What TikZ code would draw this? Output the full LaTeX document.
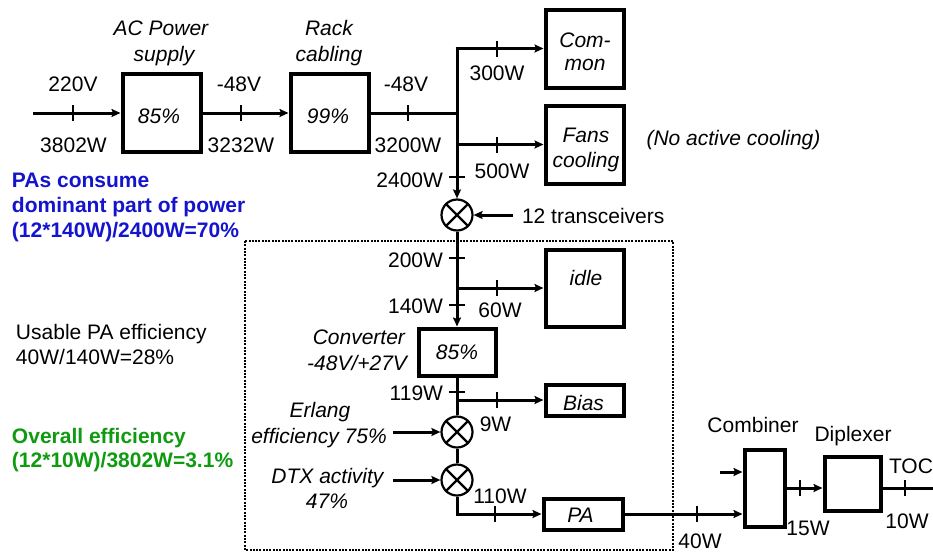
\documentclass[tikz,border=0pt]{standalone}
\usepackage{fontspec}
\setmainfont{Liberation Sans}
\usetikzlibrary{arrows.meta}
\definecolor{pablue}{RGB}{20,20,205}
\definecolor{effgreen}{RGB}{15,155,15}
\begin{document}
\begin{tikzpicture}[x=1pt,y=-1pt,
  every node/.style={inner sep=0pt, outer sep=0pt},
  lab/.style={font=\fontsize{21}{25}\selectfont, anchor=base},
  ilab/.style={font=\fontsize{21}{25}\selectfont\itshape, anchor=base},
  blab/.style={font=\fontsize{21}{25}\selectfont\bfseries, anchor=base west},
  blk/.style={draw, line width=4pt, rectangle, outer sep=2pt},
  conn/.style={line width=3pt},
  arr/.style={conn, -{Stealth[length=9pt,width=8pt,inset=1.5pt]}},
  tick/.style={line width=2pt},
  mult/.style={circle, draw, line width=2.2pt, minimum size=31pt, outer sep=1.1pt},
  ]
\useasboundingbox (0,0) rectangle (933,552);

% dotted transceiver frame
\draw[line width=2.5pt, dash pattern=on 2pt off 1.3pt] (245,241) rectangle (673,550);

% boxes
\node[blk, minimum width=78pt, minimum height=78pt] (ac) at (161.5,113) {};
\node[blk, minimum width=78pt, minimum height=78pt] (rack) at (329.5,113) {};
\node[blk, minimum width=78pt, minimum height=78pt] (common) at (584.5,48.5) {};
\node[blk, minimum width=78pt, minimum height=78pt] (fans) at (584.5,144.5) {};
\node[blk, minimum width=78pt, minimum height=77pt] (idle) at (584.5,288) {};
\node[blk, minimum width=77pt, minimum height=47pt] (conv) at (457,352) {};
\node[blk, minimum width=78pt, minimum height=31pt] (bias) at (584.5,400) {};
\node[blk, minimum width=79pt, minimum height=31pt] (pa) at (583,514) {};
\node[blk, minimum width=40pt, minimum height=77pt] (comb) at (764.5,488) {};
\node[blk, minimum width=56pt, minimum height=54pt] (dipl) at (852.5,483.5) {};

% multipliers
\node[mult] (m1) at (457,215) {};
\node[mult] (m2) at (457,432) {};
\node[mult] (m3) at (457,480) {};
\foreach \m in {m1,m2,m3}{
  \draw[line width=2.2pt] (\m.north west) -- (\m.south east) (\m.north east) -- (\m.south west);
}

% junction coordinates
\coordinate (in) at (33,113);
\coordinate (j0) at (457,113);
\coordinate (jtop) at (457,48.5);
\coordinate (jfan) at (457,144.5);
\coordinate (t12) at (513,215);
\coordinate (j1) at (457,288);
\coordinate (j2) at (457,400);
\coordinate (erl) at (393,432);
\coordinate (dtx) at (393,480);
\coordinate (j3) at (457,514);
\coordinate (cin) at (720,472);
\coordinate (out) at (933,488);

% connectors
\draw[arr] (in) -- (ac.west);
\draw[arr] (ac.east) -- (rack.west);
\draw[conn] (rack.east) -- (j0);
\draw[arr] ([yshift=1.5pt]jtop) -- (m1.north);
\draw[arr] ([xshift=-1.5pt]jtop) -- (common.west);
\draw[arr] (jfan) -- (fans.west);
\draw[arr] (t12) -- (m1.east);
\draw[arr] (m1.south) -- (conv.north);
\draw[arr] (j1) -- (idle.west);
\draw[conn] (conv.south) -- (m2.north);
\draw[arr] (j2) -- (bias.west);
\draw[arr] (erl) -- (m2.west);
\draw[conn] (m2.south) -- (m3.north);
\draw[arr] (dtx) -- (m3.west);
\draw[conn] (m3.south) -- ([yshift=1.5pt]j3);
\draw[arr] ([xshift=-1.5pt]j3) -- (pa.west);
\draw[arr] (pa.east) -- (comb.west |- pa.east);
\draw[arr] (cin) -- (comb.west |- cin);
\draw[arr] (comb.east) -- (dipl.west |- comb.east);
\draw[conn] (dipl.east |- comb.east) -- (out);

% ticks on horizontal lines
\foreach \x/\y in {73/113, 241/113, 408/113, 497/48.5, 497/144.5, 497/288, 497/400, 495/514, 697/514, 800/488, 905/488}{
  \draw[tick] (\x,\y-8) -- (\x,\y+8);
}
% ticks on the vertical bus
\foreach \y in {177, 258, 305, 392}{
  \draw[tick] (449,\y) -- (465,\y);
}

% box texts
\node[ilab] (t85a) at (159,123) {85\%};
\node[ilab] (t99) at (328,123) {99\%};
\node[ilab] (tcom1) at (585,47) {Com-};
\node[ilab] (tcom2) at (585,70) {mon};
\node[ilab] (tfan1) at (586,142) {Fans};
\node[ilab] (tfan2) at (586,167) {cooling};
\node[ilab] (tidle) at (586,285) {idle};
\node[ilab] (t85b) at (457,359) {85\%};
\node[ilab] (tbias) at (583.5,410) {Bias};
\node[ilab] (tpa) at (580.5,522) {PA};

% titles
\node[ilab] (acl1) at (161,35) {AC Power};
\node[ilab] (acl2) at (164,61) {supply};
\node[ilab] (rk1) at (329,35) {Rack};
\node[ilab] (rk2) at (329,61) {cabling};
\node[ilab] (nac) at (733.5,145) {(No active cooling)};
\node[ilab, anchor=base east] (cv1) at (405,344) {Converter};
\node[ilab, anchor=base east] (cv2) at (407,370) {-48V/+27V};
\node[ilab] (er1) at (320,417) {Erlang};
\node[ilab] (er2) at (319,443) {efficiency 75\%};
\node[ilab] (dt1) at (327.5,483) {DTX activity};
\node[ilab] (dt2) at (327,508) {47\%};
\node[lab] (lcomb) at (753,432) {Combiner};
\node[lab] (ldipl) at (853,441) {Diplexer};

% values
\node[lab] (v220) at (73,91) {220V};
\node[lab] (w3802) at (73.5,152) {3802W};
\node[lab] (v48a) at (239,91) {-48V};
\node[lab] (w3232) at (241,152) {3232W};
\node[lab] (v48b) at (406,91) {-48V};
\node[lab] (w3200) at (408,152) {3200W};
\node[lab, anchor=base east] (w2400) at (443,187) {2400W};
\node[lab] (w300) at (497,80) {300W};
\node[lab] (w500) at (502,178) {500W};
\node[lab, anchor=base west] (l12) at (522,223) {12 transceivers};
\node[lab, anchor=base east] (w200) at (443,267) {200W};
\node[lab, anchor=base east] (w140) at (443,313) {140W};
\node[lab] (w60) at (500,317) {60W};
\node[lab, anchor=base east] (w119) at (443,400) {119W};
\node[lab] (w9) at (495.5,431) {9W};
\node[lab] (w110) at (500,503) {110W};
\node[lab] (w40) at (700,548) {40W};
\node[lab] (w15) at (808,535) {15W};
\node[lab] (toc) at (911,473) {TOC};
\node[lab] (w10) at (907,528) {10W};

% side notes
\node[blab, text=pablue] (pb1) at (12,187) {PAs consume};
\node[blab, text=pablue] (pb2) at (12,212) {dominant part of power};
\node[blab, text=pablue] (pb3) at (12,237) {(12*140W)/2400W=70\%};
\node[lab, anchor=base west] (us1) at (16,339) {Usable PA efficiency};
\node[lab, anchor=base west] (us2) at (16,364) {40W/140W=28\%};
\node[blab, text=effgreen] (ov1) at (12,443) {Overall efficiency};
\node[blab, text=effgreen] (ov2) at (12,467) {(12*10W)/3802W=3.1\%};
\end{tikzpicture}
\end{document}
